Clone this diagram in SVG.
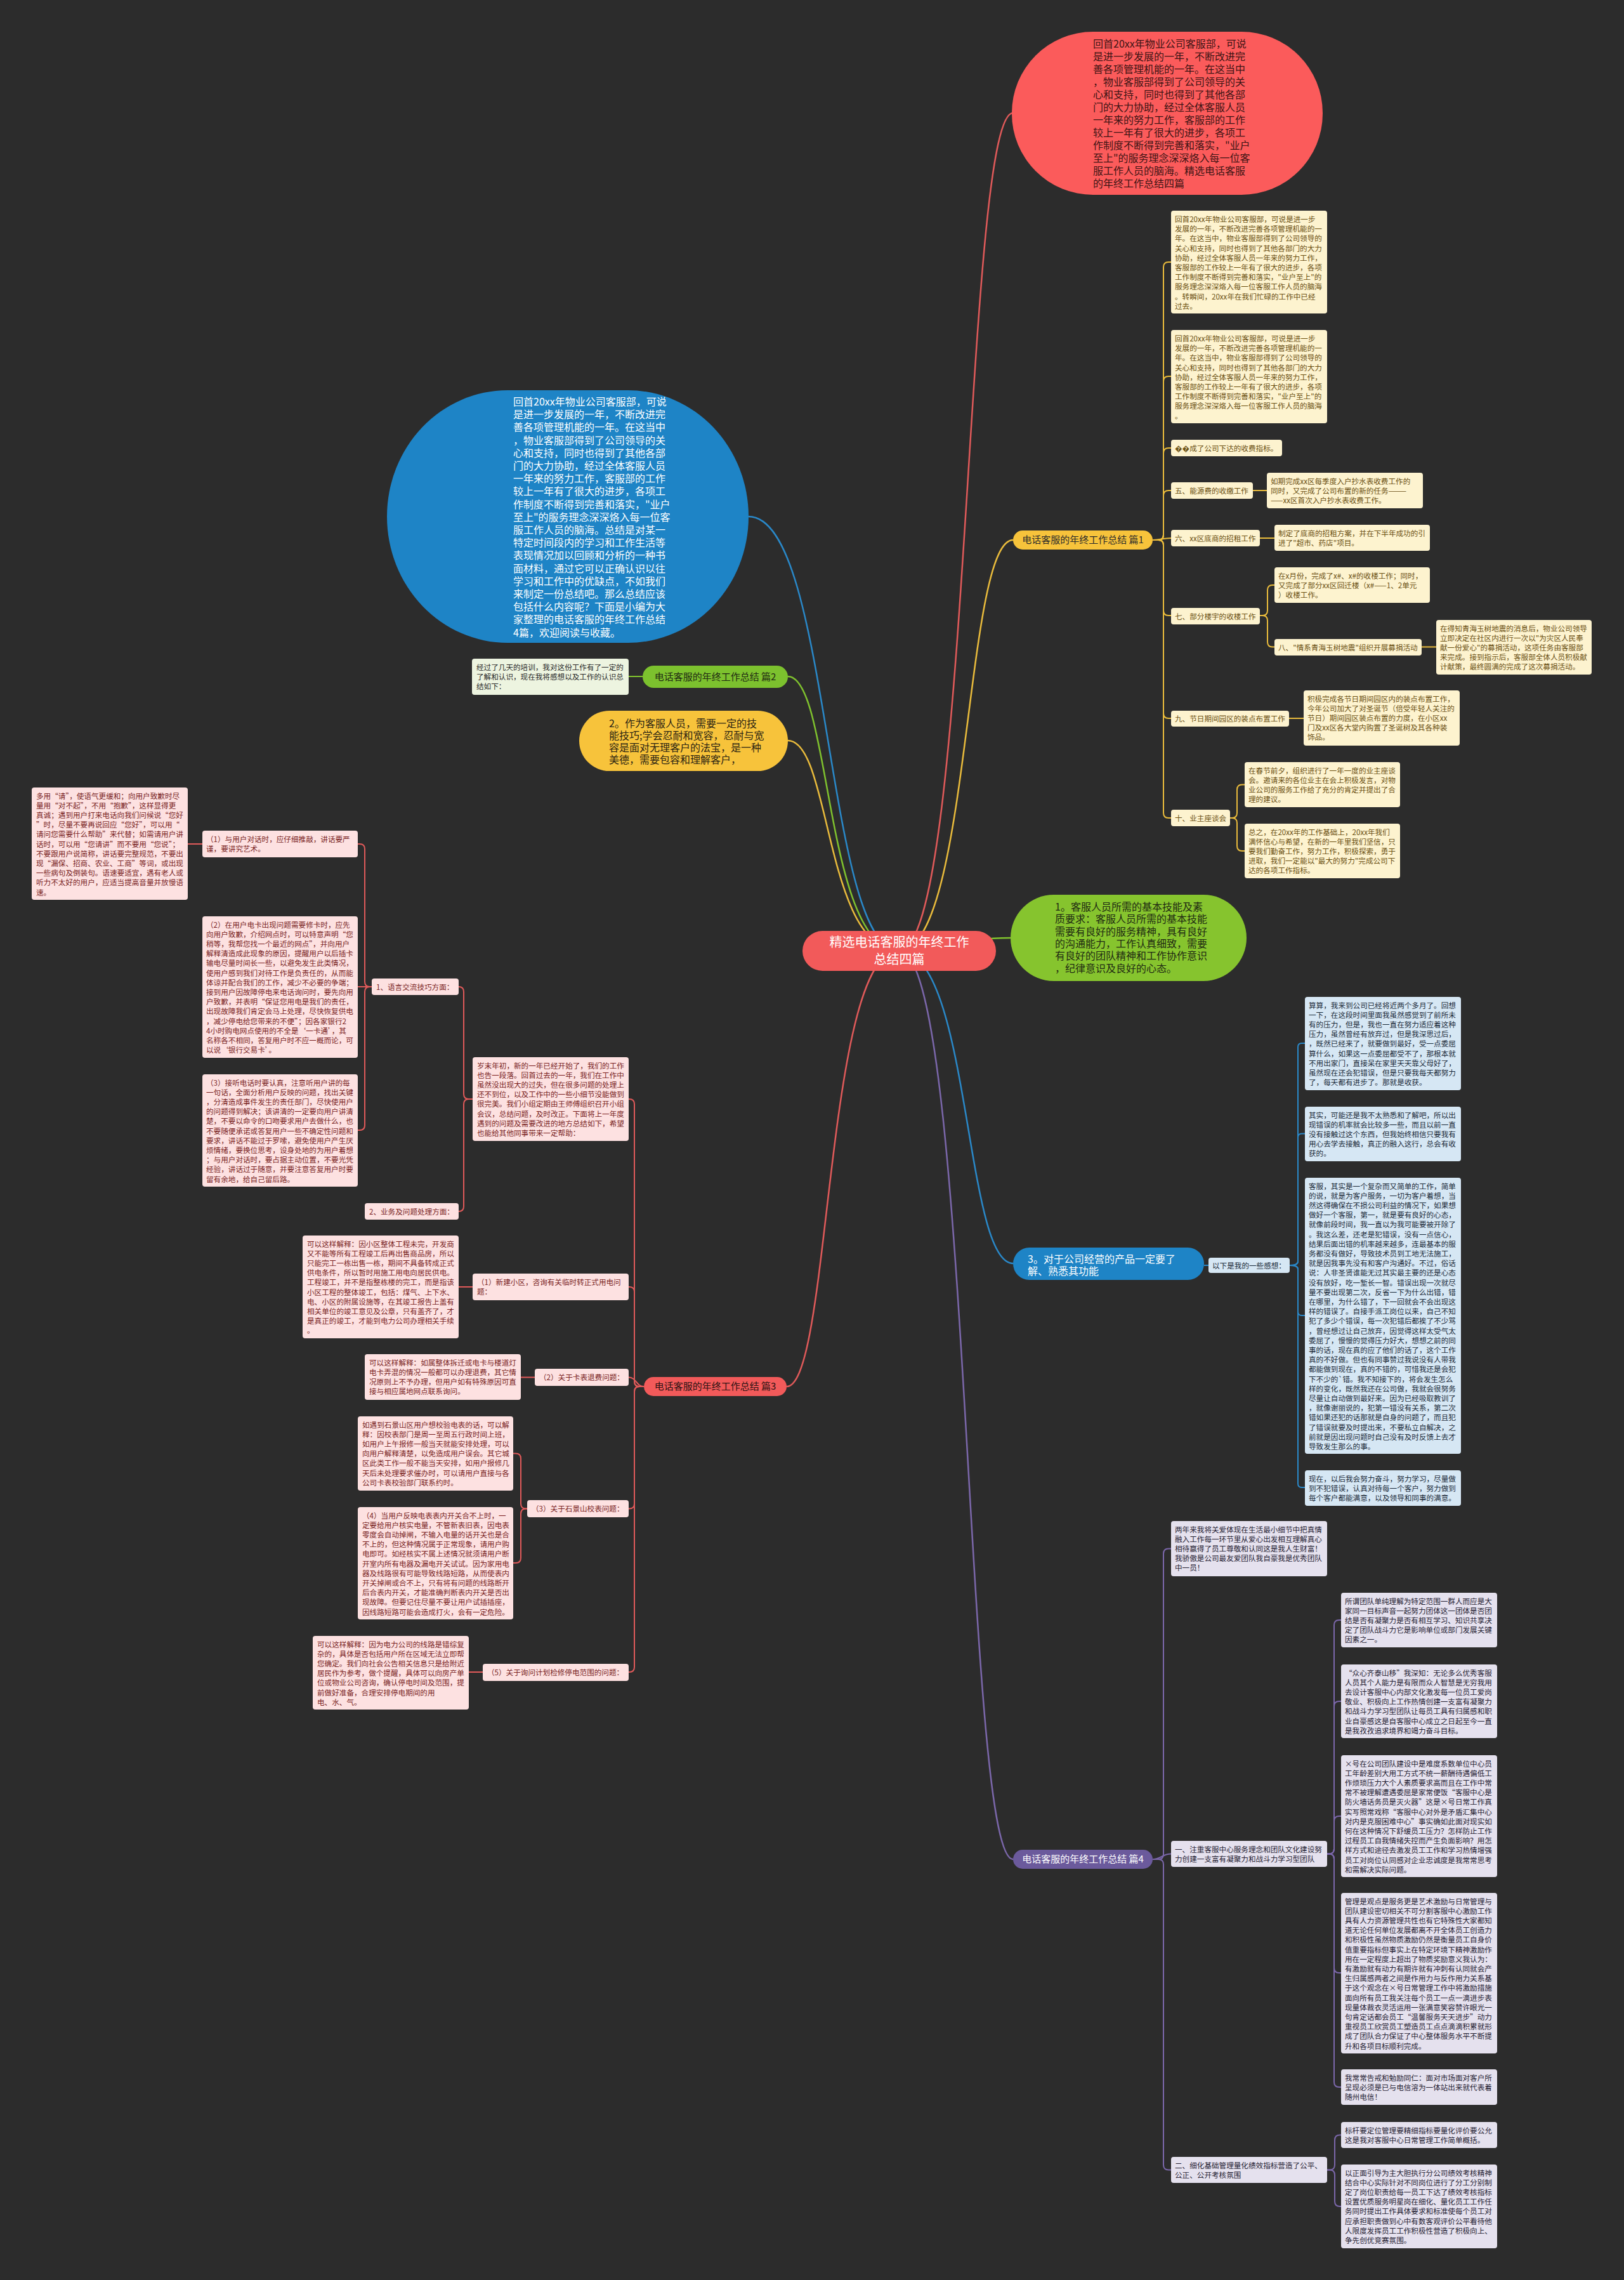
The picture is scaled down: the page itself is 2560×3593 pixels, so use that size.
<svg xmlns="http://www.w3.org/2000/svg" width="2560" height="3593" viewBox="0 0 2560 3593">
<style>
text{font-family:'Noto Sans CJK SC','Noto Sans',sans-serif}
.s{font-size:11.6px}
.m{font-size:16px}
.p{font-size:15px}
.by{fill:#fdf3cf}.ty{fill:#6b5012}
.br{fill:#fde1e1}.tr{fill:#7a1f1f}
.bgr{fill:#edf4e0}.tg{fill:#2a2a2a}
.bb{fill:#d6e7f4}.tb{fill:#1b2b3a}
.bp{fill:#e5e1ee}.tp{fill:#262233}
path{fill:none;stroke-width:2}
.cy{stroke:#e9bb3c}.cr{stroke:#e05a5a}.cg{stroke:#7fc12e}.cb{stroke:#2a88c8}.cp{stroke:#7b67aa}
.mw{stroke-width:2.5}
</style>
<rect x="0" y="0" width="2560" height="3593" fill="#2c2c2c"/>
<g id="connectors">
<path class="cr mw" d="M1417,1498 C1530,1498 1520,178 1597,178"/>
<path class="cy mw" d="M1417,1498 C1530,1498 1520,851 1597,851"/>
<path class="cg mw" d="M1417,1498 C1500,1498 1510,1478 1593,1478"/>
<path class="cb mw" d="M1417,1498 C1530,1498 1520,1991 1597,1991"/>
<path class="cp mw" d="M1417,1498 C1530,1498 1520,2930 1597,2930"/>
<path class="cb mw" d="M1417,1498 C1300,1498 1310,814 1180,814"/>
<path class="cg mw" d="M1417,1498 C1300,1498 1310,1066 1242,1066"/>
<path class="cy mw" d="M1417,1498 C1300,1498 1310,1167 1242,1167"/>
<path class="cr mw" d="M1417,1498 C1300,1498 1310,2185 1240,2185"/>
<path class="cy" d="M1817,851 H1826 Q1834,851 1834,843 V421 Q1834,413 1842,413 H1846"/>
<path class="cy" d="M1817,851 H1826 Q1834,851 1834,843 V601 Q1834,593 1842,593 H1846"/>
<path class="cy" d="M1817,851 H1826 Q1834,851 1834,843 V714 Q1834,706 1842,706 H1846"/>
<path class="cy" d="M1817,851 H1826 Q1834,851 1834,843 V781 Q1834,773 1842,773 H1846"/>
<path class="cy" d="M1817,851 C1830,851 1832,848 1846,848"/>
<path class="cy" d="M1817,851 H1826 Q1834,851 1834,859 V962 Q1834,970 1842,970 H1846"/>
<path class="cy" d="M1817,851 H1826 Q1834,851 1834,859 V1124 Q1834,1132 1842,1132 H1846"/>
<path class="cy" d="M1817,851 H1826 Q1834,851 1834,859 V1281 Q1834,1289 1842,1289 H1846"/>
<path class="cy" d="M1975,773 H1997"/>
<path class="cy" d="M1986,848 H2009"/>
<path class="cy" d="M1986,970 H1990 Q1998,970 1998,962 V930 Q1998,922 2006,922 H2009"/>
<path class="cy" d="M1986,970 H1990 Q1998,970 1998,978 V1011.5 Q1998,1019.5 2006,1019.5 H2009"/>
<path class="cy" d="M2241,1019.5 H2264"/>
<path class="cy" d="M2032,1132 H2055"/>
<path class="cy" d="M1939,1289 H1942 Q1950,1289 1950,1281 V1244.5 Q1950,1236.5 1958,1236.5 H1962"/>
<path class="cy" d="M1939,1289 H1942 Q1950,1289 1950,1297 V1333 Q1950,1341 1958,1341 H1962"/>
<path class="cg" d="M1013,1066 H991"/>
<path class="cr" d="M1015,2185 H1008 Q1000,2185 1000,2177 V1740 Q1000,1732 992,1732 H991"/>
<path class="cr" d="M1015,2185 H1008 Q1000,2185 1000,2177 V2036 Q1000,2028 992,2028 H991"/>
<path class="cr" d="M1015,2185 C1003,2185 1003,2170.5 991,2170.5"/>
<path class="cr" d="M1015,2185 H1008 Q1000,2185 1000,2193 V2369.5 Q1000,2377.5 992,2377.5 H991"/>
<path class="cr" d="M1015,2185 H1008 Q1000,2185 1000,2193 V2627 Q1000,2635 992,2635 H991"/>
<path class="cr" d="M745,1732 H739 Q731,1732 731,1724 V1563 Q731,1555 723,1555"/>
<path class="cr" d="M745,1732 H739 Q731,1732 731,1740 V1901 Q731,1909 723,1909"/>
<path class="cr" d="M586,1555 H583 Q575,1555 575,1547 V1338 Q575,1330 567,1330 H564"/>
<path class="cr" d="M586,1555 H564"/>
<path class="cr" d="M586,1555 H583 Q575,1555 575,1563 V1773 Q575,1781 567,1781 H564"/>
<path class="cr" d="M319,1330 H296"/>
<path class="cr" d="M745,2028 H722"/>
<path class="cr" d="M843,2170.5 H821"/>
<path class="cr" d="M831,2377.5 H829 Q821,2377.5 821,2369.5 V2298.5 Q821,2290.5 813,2290.5 H809"/>
<path class="cr" d="M831,2377.5 H829 Q821,2377.5 821,2385.5 V2455 Q821,2463 813,2463 H809"/>
<path class="cr" d="M761,2635 H739"/>
<path class="cb" d="M1898,1994 H1905"/>
<path class="cb" d="M2033,1994 Q2046,1994 2046,1988 V1650 Q2046,1644 2052,1644 H2057"/>
<path class="cb" d="M2033,1994 Q2046,1994 2046,1988 V1792.5 Q2046,1786.5 2052,1786.5 H2057"/>
<path class="cb" d="M2033,1994 Q2046,1994 2046,2000 V2067 Q2046,2073 2052,2073 H2057"/>
<path class="cb" d="M2033,1994 Q2046,1994 2046,2000 V2338 Q2046,2344 2052,2344 H2057"/>
<path class="cp" d="M1817,2930 H1826 Q1834,2930 1834,2922 V2448.5 Q1834,2440.5 1842,2440.5 H1846"/>
<path class="cp" d="M1817,2930 C1830,2930 1832,2921.5 1846,2921.5"/>
<path class="cp" d="M1817,2930 H1826 Q1834,2930 1834,2938 V3411.5 Q1834,3419.5 1842,3419.5 H1846"/>
<path class="cp" d="M2092,2921.5 H2095 Q2103,2921.5 2103,2913.5 V2561 Q2103,2553 2111,2553 H2114"/>
<path class="cp" d="M2092,2921.5 H2095 Q2103,2921.5 2103,2913.5 V2689 Q2103,2681 2111,2681 H2114"/>
<path class="cp" d="M2092,2921.5 H2095 Q2103,2921.5 2103,2913.5 V2870 Q2103,2862 2111,2862 H2114"/>
<path class="cp" d="M2092,2921.5 H2095 Q2103,2921.5 2103,2929.5 V3101 Q2103,3109 2111,3109 H2114"/>
<path class="cp" d="M2092,2921.5 H2095 Q2103,2921.5 2103,2929.5 V3281 Q2103,3289 2111,3289 H2114"/>
<path class="cp" d="M2092,3419.5 H2096 Q2104,3419.5 2104,3411.5 V3372.5 Q2104,3364.5 2112,3364.5 H2114"/>
<path class="cp" d="M2092,3419.5 H2096 Q2104,3419.5 2104,3427.5 V3469 Q2104,3477 2112,3477 H2114"/>
</g>

<g id="center">
<rect x="1265" y="1467" width="305" height="63" rx="31.5" fill="#f25a5a"/>
<text x="1417.5" y="1492" font-size="20" fill="#ffffff" text-anchor="middle"><tspan x="1417.5">精选电话客服的年终工作</tspan><tspan x="1417.5" dy="27">总结四篇</tspan></text>
</g>

<g id="top-red">
<rect x="1595" y="50" width="490" height="257" rx="128" fill="#fb5b5b"/>
<text class="m" x="1723" y="75" fill="#3d1414"><tspan x="1723">回首20xx年物业公司客服部，可说</tspan><tspan x="1723" dy="20">是进一步发展的一年，不断改进完</tspan><tspan x="1723" dy="20">善各项管理机能的一年。在这当中</tspan><tspan x="1723" dy="20">，物业客服部得到了公司领导的关</tspan><tspan x="1723" dy="20">心和支持，同时也得到了其他各部</tspan><tspan x="1723" dy="20">门的大力协助，经过全体客服人员</tspan><tspan x="1723" dy="20">一年来的努力工作，客服部的工作</tspan><tspan x="1723" dy="20">较上一年有了很大的进步，各项工</tspan><tspan x="1723" dy="20">作制度不断得到完善和落实，"业户</tspan><tspan x="1723" dy="20">至上"的服务理念深深烙入每一位客</tspan><tspan x="1723" dy="20">服工作人员的脑海。精选电话客服</tspan><tspan x="1723" dy="20">的年终工作总结四篇</tspan></text>
</g>

<g id="blue-intro">
<rect x="610" y="615" width="570" height="398" rx="190" ry="199" fill="#1e84c6"/>
<text class="m" x="809" y="639" fill="#ffffff"><tspan x="809">回首20xx年物业公司客服部，可说</tspan><tspan x="809" dy="20.2">是进一步发展的一年，不断改进完</tspan><tspan x="809" dy="20.2">善各项管理机能的一年。在这当中</tspan><tspan x="809" dy="20.2">，物业客服部得到了公司领导的关</tspan><tspan x="809" dy="20.2">心和支持，同时也得到了其他各部</tspan><tspan x="809" dy="20.2">门的大力协助，经过全体客服人员</tspan><tspan x="809" dy="20.2">一年来的努力工作，客服部的工作</tspan><tspan x="809" dy="20.2">较上一年有了很大的进步，各项工</tspan><tspan x="809" dy="20.2">作制度不断得到完善和落实，"业户</tspan><tspan x="809" dy="20.2">至上"的服务理念深深烙入每一位客</tspan><tspan x="809" dy="20.2">服工作人员的脑海。总结是对某一</tspan><tspan x="809" dy="20.2">特定时间段内的学习和工作生活等</tspan><tspan x="809" dy="20.2">表现情况加以回顾和分析的一种书</tspan><tspan x="809" dy="20.2">面材料，通过它可以正确认识以往</tspan><tspan x="809" dy="20.2">学习和工作中的优缺点，不如我们</tspan><tspan x="809" dy="20.2">来制定一份总结吧。那么总结应该</tspan><tspan x="809" dy="20.2">包括什么内容呢？下面是小编为大</tspan><tspan x="809" dy="20.2">家整理的电话客服的年终工作总结</tspan><tspan x="809" dy="20.2">4篇，欢迎阅读与收藏。</tspan></text>
</g>

<g id="branch1">
<rect x="1597" y="836" width="220" height="30" rx="15" fill="#f7c33b"/>
<text class="p" x="1707" y="856" fill="#2b2b2b" text-anchor="middle">电话客服的年终工作总结 篇1</text>
</g>
<g id="b1-a"><rect class="by" x="1846" y="332" width="246" height="162" rx="4"/>
<text class="s ty" x="1852" y="350"><tspan x="1852">回首20xx年物业公司客服部，可说是进一步</tspan><tspan x="1852" dy="15.2">发展的一年，不断改进完善各项管理机能的一</tspan><tspan x="1852" dy="15.2">年。在这当中，物业客服部得到了公司领导的</tspan><tspan x="1852" dy="15.2">关心和支持，同时也得到了其他各部门的大力</tspan><tspan x="1852" dy="15.2">协助，经过全体客服人员一年来的努力工作，</tspan><tspan x="1852" dy="15.2">客服部的工作较上一年有了很大的进步，各项</tspan><tspan x="1852" dy="15.2">工作制度不断得到完善和落实，"业户至上"的</tspan><tspan x="1852" dy="15.2">服务理念深深烙入每一位客服工作人员的脑海</tspan><tspan x="1852" dy="15.2">。转瞬间，20xx年在我们忙碌的工作中已经</tspan><tspan x="1852" dy="15.2">过去。</tspan></text></g>
<g id="b1-b"><rect class="by" x="1846" y="520" width="246" height="147" rx="4"/>
<text class="s ty" x="1852" y="538"><tspan x="1852">回首20xx年物业公司客服部，可说是进一步</tspan><tspan x="1852" dy="15.2">发展的一年，不断改进完善各项管理机能的一</tspan><tspan x="1852" dy="15.2">年。在这当中，物业客服部得到了公司领导的</tspan><tspan x="1852" dy="15.2">关心和支持，同时也得到了其他各部门的大力</tspan><tspan x="1852" dy="15.2">协助，经过全体客服人员一年来的努力工作，</tspan><tspan x="1852" dy="15.2">客服部的工作较上一年有了很大的进步，各项</tspan><tspan x="1852" dy="15.2">工作制度不断得到完善和落实，"业户至上"的</tspan><tspan x="1852" dy="15.2">服务理念深深烙入每一位客服工作人员的脑海</tspan><tspan x="1852" dy="15.2">。</tspan></text></g>
<g id="b1-c"><rect class="by" x="1846" y="693" width="175" height="26" rx="4"/>
<text class="s ty" x="1852" y="710.5">��成了公司下达的收费指标。</text></g>
<g id="b1-d"><rect class="by" x="1846" y="760" width="129" height="26" rx="4"/>
<text class="s ty" x="1852" y="777.5">五、能源费的收缴工作</text></g>
<g id="b1-d1"><rect class="by" x="1997" y="745" width="246" height="56" rx="4"/>
<text class="s ty" x="2003" y="762.5"><tspan x="2003">如期完成xx区每季度入户抄水表收费工作的</tspan><tspan x="2003" dy="15.2">同时，又完成了公司布置的新的任务———</tspan><tspan x="2003" dy="15.2">——xx区首次入户抄水表收费工作。</tspan></text></g>
<g id="b1-e"><rect class="by" x="1846" y="835" width="140" height="26" rx="4"/>
<text class="s ty" x="1852" y="852.5">六、xx区底商的招租工作</text></g>
<g id="b1-e1"><rect class="by" x="2009" y="827" width="245" height="41" rx="4"/>
<text class="s ty" x="2015" y="844.5"><tspan x="2015">制定了底商的招租方案，并在下半年成功的引</tspan><tspan x="2015" dy="15.2">进了"超市、药店"项目。</tspan></text></g>
<g id="b1-f"><rect class="by" x="1846" y="958" width="140" height="26" rx="4"/>
<text class="s ty" x="1852" y="975.5">七、部分楼宇的收楼工作</text></g>
<g id="b1-f1"><rect class="by" x="2009" y="894" width="245" height="56" rx="4"/>
<text class="s ty" x="2015" y="911.5"><tspan x="2015">在x月份，完成了x#、x#的收楼工作；同时，</tspan><tspan x="2015" dy="15.2">又完成了部分xx区回迁楼（x#——1、2单元</tspan><tspan x="2015" dy="15.2">）收楼工作。</tspan></text></g>
<g id="b1-f2"><rect class="by" x="2009" y="1007" width="232" height="26" rx="4"/>
<text class="s ty" x="2015" y="1024.5">八、"情系青海玉树地震"组织开展募捐活动</text></g>
<g id="b1-f2a"><rect class="by" x="2264" y="977" width="245" height="86" rx="4"/>
<text class="s ty" x="2270" y="994.5"><tspan x="2270">在得知青海玉树地震的消息后，物业公司领导</tspan><tspan x="2270" dy="15.2">立即决定在社区内进行一次以"为灾区人民奉</tspan><tspan x="2270" dy="15.2">献一份爱心"的募捐活动，这项任务由客服部</tspan><tspan x="2270" dy="15.2">来完成。接到指示后，客服部全体人员积极献</tspan><tspan x="2270" dy="15.2">计献策，最终圆满的完成了这次募捐活动。</tspan></text></g>
<g id="b1-g"><rect class="by" x="1846" y="1120" width="186" height="25" rx="4"/>
<text class="s ty" x="1852" y="1137">九、节日期间园区的装点布置工作</text></g>
<g id="b1-g1"><rect class="by" x="2055" y="1088" width="246" height="87" rx="4"/>
<text class="s ty" x="2061" y="1105.5"><tspan x="2061">积极完成各节日期间园区内的装点布置工作，</tspan><tspan x="2061" dy="15.2">今年公司加大了对圣诞节（倍受年轻人关注的</tspan><tspan x="2061" dy="15.2">节日）期间园区装点布置的力度，在小区xx</tspan><tspan x="2061" dy="15.2">门及xx区各大堂内购置了圣诞树及其各种装</tspan><tspan x="2061" dy="15.2">饰品。</tspan></text></g>
<g id="b1-h"><rect class="by" x="1846" y="1276" width="93" height="26" rx="4"/>
<text class="s ty" x="1852" y="1293.5">十、业主座谈会</text></g>
<g id="b1-h1"><rect class="by" x="1962" y="1201" width="245" height="71" rx="4"/>
<text class="s ty" x="1968" y="1218.5"><tspan x="1968">在春节前夕，组织进行了一年一度的业主座谈</tspan><tspan x="1968" dy="15.2">会。邀请来的各位业主在会上积极发言，对物</tspan><tspan x="1968" dy="15.2">业公司的服务工作给了充分的肯定并提出了合</tspan><tspan x="1968" dy="15.2">理的建议。</tspan></text></g>
<g id="b1-h2"><rect class="by" x="1962" y="1298" width="245" height="86" rx="4"/>
<text class="s ty" x="1968" y="1315.5"><tspan x="1968">总之，在20xx年的工作基础上，20xx年我们</tspan><tspan x="1968" dy="15.2">满怀信心与希望，在新的一年里我们坚信，只</tspan><tspan x="1968" dy="15.2">要我们勤奋工作，努力工作，积极探索，勇于</tspan><tspan x="1968" dy="15.2">进取，我们一定能以"最大的努力"完成公司下</tspan><tspan x="1968" dy="15.2">达的各项工作指标。</tspan></text></g>

<g id="branch2">
<rect x="1013" y="1049" width="229" height="35" rx="17.5" fill="#7cc12e"/>
<text class="p" x="1127.5" y="1072" fill="#1f2a12" text-anchor="middle">电话客服的年终工作总结 篇2</text>
</g>
<g id="b2-a"><rect class="bgr" x="744" y="1038" width="247" height="57" rx="4"/>
<text class="s tg" x="751" y="1055.5"><tspan x="751">经过了几天的培训，我对这份工作有了一定的</tspan><tspan x="751" dy="15.2">了解和认识，现在我将感想以及工作的认识总</tspan><tspan x="751" dy="15.2">结如下：</tspan></text></g>

<g id="yellow-2">
<rect x="913" y="1120" width="329" height="95" rx="47.5" fill="#f7c33b"/>
<text class="m" x="960" y="1146" fill="#2b2413"><tspan x="960">2。作为客服人员，需要一定的技</tspan><tspan x="960" dy="19">能技巧;学会忍耐和宽容，忍耐与宽</tspan><tspan x="960" dy="19">容是面对无理客户的法宝，是一种</tspan><tspan x="960" dy="19">美德，需要包容和理解客户，</tspan></text>
</g>

<g id="green-1">
<rect x="1593" y="1410" width="372" height="136" rx="68" fill="#86c42e"/>
<text class="m" x="1663" y="1435" fill="#1f2a12"><tspan x="1663">1。客服人员所需的基本技能及素</tspan><tspan x="1663" dy="19.3">质要求：客服人员所需的基本技能</tspan><tspan x="1663" dy="19.3">需要有良好的服务精神，具有良好</tspan><tspan x="1663" dy="19.3">的沟通能力，工作认真细致，需要</tspan><tspan x="1663" dy="19.3">有良好的团队精神和工作协作意识</tspan><tspan x="1663" dy="19.3">，纪律意识及良好的心态。</tspan></text>
</g>

<g id="branch3">
<rect x="1015" y="2170" width="225" height="30" rx="15" fill="#f25a5a"/>
<text class="p" x="1127.5" y="2190" fill="#2b1212" text-anchor="middle">电话客服的年终工作总结 篇3</text>
</g>
<g id="b3-far"><rect class="br" x="50" y="1241" width="246" height="177" rx="4"/>
<text class="s tr" x="57" y="1258.5"><tspan x="57">多用“请”，使语气更缓和；向用户致歉时尽</tspan><tspan x="57" dy="15.2">量用“对不起”，不用“抱歉”，这样显得更</tspan><tspan x="57" dy="15.2">真诚；遇到用户打来电话向我们问候说“您好</tspan><tspan x="57" dy="15.2">”时，尽量不要再说回应“您好”，可以用“</tspan><tspan x="57" dy="15.2">请问您需要什么帮助”来代替；如需请用户讲</tspan><tspan x="57" dy="15.2">话时，可以用“您请讲”而不要用“您说”；</tspan><tspan x="57" dy="15.2">不要跟用户说简称，讲话要完整规范，不要出</tspan><tspan x="57" dy="15.2">现“漏保、招商、农业、工商”等词，或出现</tspan><tspan x="57" dy="15.2">一些病句及倒装句。语速要适宜，遇有老人或</tspan><tspan x="57" dy="15.2">听力不太好的用户，应适当提高音量并放慢语</tspan><tspan x="57" dy="15.2">速。</tspan></text></g>
<g id="b3-l1"><rect class="br" x="319" y="1309" width="245" height="42" rx="4"/>
<text class="s tr" x="325" y="1326.5"><tspan x="325">（1）与用户对话时，应仔细推敲，讲话要严</tspan><tspan x="325" dy="15.2">谨，要讲究艺术。</tspan></text></g>
<g id="b3-l2"><rect class="br" x="319" y="1444" width="245" height="223" rx="4"/>
<text class="s tr" x="325" y="1461.5"><tspan x="325">（2）在用户电卡出现问题需要修卡时，应先</tspan><tspan x="325" dy="15.2">向用户致歉，介绍网点时，可以特意声明“您</tspan><tspan x="325" dy="15.2">稍等，我帮您找一个最近的网点”，并向用户</tspan><tspan x="325" dy="15.2">解释清造成此现象的原因，提醒用户以后插卡</tspan><tspan x="325" dy="15.2">输电尽量时间长一些，以避免发生此类情况，</tspan><tspan x="325" dy="15.2">使用户感到我们对待工作是负责任的，从而能</tspan><tspan x="325" dy="15.2">体谅并配合我们的工作，减少不必要的争端；</tspan><tspan x="325" dy="15.2">接到用户因故障停电来电话询问时，要先向用</tspan><tspan x="325" dy="15.2">户致歉，并表明“保证您用电是我们的责任，</tspan><tspan x="325" dy="15.2">出现故障我们肯定会马上处理，尽快恢复供电</tspan><tspan x="325" dy="15.2">，减少停电给您带来的不便”；因各家银行2</tspan><tspan x="325" dy="15.2">4小时购电网点使用的不全是‘一卡通’，其</tspan><tspan x="325" dy="15.2">名称各不相同，答复用户时不应一概而论，可</tspan><tspan x="325" dy="15.2">以说‘银行交易卡’。</tspan></text></g>
<g id="b3-l3"><rect class="br" x="319" y="1693" width="245" height="177" rx="4"/>
<text class="s tr" x="325" y="1710.5"><tspan x="325">（3）接听电话时要认真，注意听用户讲的每</tspan><tspan x="325" dy="15.2">一句话，全面分析用户反映的问题，找出关键</tspan><tspan x="325" dy="15.2">，分清造成事件发生的责任部门，尽快使用户</tspan><tspan x="325" dy="15.2">的问题得到解决；该讲清的一定要向用户讲清</tspan><tspan x="325" dy="15.2">楚，不要以命令的口吻要求用户去做什么，也</tspan><tspan x="325" dy="15.2">不要随便承诺或答复用户一些不确定性问题和</tspan><tspan x="325" dy="15.2">要求，讲话不能过于罗嗦，避免使用户产生厌</tspan><tspan x="325" dy="15.2">烦情绪，要换位思考，设身处地的为用户着想</tspan><tspan x="325" dy="15.2">；与用户对话时，要占据主动位置，不要光凭</tspan><tspan x="325" dy="15.2">经验，讲话过于随意，并要注意答复用户时要</tspan><tspan x="325" dy="15.2">留有余地，给自己留后路。</tspan></text></g>
<g id="b3-lang"><rect class="br" x="586" y="1542" width="137" height="26" rx="4"/>
<text class="s tr" x="593" y="1559.5">1、语言交流技巧方面：</text></g>
<g id="b3-biz"><rect class="br" x="575" y="1896" width="148" height="26" rx="4"/>
<text class="s tr" x="582" y="1913.5">2、业务及问题处理方面：</text></g>
<g id="b3-intro"><rect class="br" x="745" y="1666" width="246" height="132" rx="4"/>
<text class="s tr" x="752" y="1683.5"><tspan x="752">岁末年初，新的一年已经开始了，我们的工作</tspan><tspan x="752" dy="15.2">也告一段落。回首过去的一年，我们在工作中</tspan><tspan x="752" dy="15.2">虽然没出现大的过失，但在很多问题的处理上</tspan><tspan x="752" dy="15.2">还不到位，以及工作中的一些小细节没能做到</tspan><tspan x="752" dy="15.2">很完美。我们小组定期由王师傅组织召开小组</tspan><tspan x="752" dy="15.2">会议，总结问题，及时改正。下面将上一年度</tspan><tspan x="752" dy="15.2">遇到的问题及需要改进的地方总结如下，希望</tspan><tspan x="752" dy="15.2">也能给其他同事带来一定帮助：</tspan></text></g>
<g id="b3-q1a"><rect class="br" x="477" y="1947" width="246" height="162" rx="4"/>
<text class="s tr" x="484" y="1964.5"><tspan x="484">可以这样解释：因小区整体工程未完，开发商</tspan><tspan x="484" dy="15.2">又不能等所有工程竣工后再出售商品房，所以</tspan><tspan x="484" dy="15.2">只能完工一栋出售一栋，期间不具备转成正式</tspan><tspan x="484" dy="15.2">供电条件，所以暂时用施工用电向居民供电。</tspan><tspan x="484" dy="15.2">工程竣工，并不是指整栋楼的完工，而是指该</tspan><tspan x="484" dy="15.2">小区工程的整体竣工，包括：煤气、上下水、</tspan><tspan x="484" dy="15.2">电、小区的附属设施等，在其竣工报告上盖有</tspan><tspan x="484" dy="15.2">相关单位的竣工意见及公章，只有盖齐了，才</tspan><tspan x="484" dy="15.2">是真正的竣工，才能到电力公司办理相关手续</tspan><tspan x="484" dy="15.2">。</tspan></text></g>
<g id="b3-q1"><rect class="br" x="745" y="2007" width="246" height="42" rx="4"/>
<text class="s tr" x="752" y="2024.5"><tspan x="752">（1）新建小区，咨询有关临时转正式用电问</tspan><tspan x="752" dy="15.2">题：</tspan></text></g>
<g id="b3-q2a"><rect class="br" x="575" y="2134" width="246" height="72" rx="4"/>
<text class="s tr" x="582" y="2151.5"><tspan x="582">可以这样解释：如属整体拆迁或电卡与楼道灯</tspan><tspan x="582" dy="15.2">电卡弄混的情况一般都可以办理退费，其它情</tspan><tspan x="582" dy="15.2">况原则上不予办理，但用户如有特殊原因可直</tspan><tspan x="582" dy="15.2">接与相应属地网点联系询问。</tspan></text></g>
<g id="b3-q2"><rect class="br" x="843" y="2157" width="148" height="27" rx="4"/>
<text class="s tr" x="850" y="2174.5">（2）关于卡表退费问题：</text></g>
<g id="b3-q3a"><rect class="br" x="564" y="2232" width="245" height="117" rx="4"/>
<text class="s tr" x="571" y="2249.5"><tspan x="571">如遇到石景山区用户想校验电表的话，可以解</tspan><tspan x="571" dy="15.2">释：因校表部门是周一至周五行政时间上班，</tspan><tspan x="571" dy="15.2">如用户上午报修一般当天就能安排处理，可以</tspan><tspan x="571" dy="15.2">向用户解释清楚，以免造成用户误会。其它城</tspan><tspan x="571" dy="15.2">区此类工作一般不能当天安排，如用户报修几</tspan><tspan x="571" dy="15.2">天后未处理要求催办时，可以请用户直接与各</tspan><tspan x="571" dy="15.2">公司卡表校验部门联系约时。</tspan></text></g>
<g id="b3-q3b"><rect class="br" x="564" y="2375" width="245" height="177" rx="4"/>
<text class="s tr" x="571" y="2392.5"><tspan x="571">（4）当用户反映电表表内开关合不上时，一</tspan><tspan x="571" dy="15.2">定要给用户核实电量，不管新表旧表，因电表</tspan><tspan x="571" dy="15.2">零度会自动掉闸，不输入电量的话开关也是合</tspan><tspan x="571" dy="15.2">不上的，但这种情况属于正常现象，请用户购</tspan><tspan x="571" dy="15.2">电即可。如经核实不属上述情况就须请用户断</tspan><tspan x="571" dy="15.2">开室内所有电器及漏电开关试试。因为家用电</tspan><tspan x="571" dy="15.2">器及线路很有可能导致线路短路，从而使表内</tspan><tspan x="571" dy="15.2">开关掉闸或合不上，只有将有问题的线路断开</tspan><tspan x="571" dy="15.2">后合表内开关，才能准确判断表内开关是否出</tspan><tspan x="571" dy="15.2">现故障。但要记住尽量不要让用户试插插座，</tspan><tspan x="571" dy="15.2">因线路短路可能会造成打火，会有一定危险。</tspan></text></g>
<g id="b3-q3"><rect class="br" x="831" y="2364" width="160" height="27" rx="4"/>
<text class="s tr" x="838" y="2381.5">（3）关于石景山校表问题：</text></g>
<g id="b3-q5a"><rect class="br" x="493" y="2578" width="246" height="116" rx="4"/>
<text class="s tr" x="500" y="2595.5"><tspan x="500">可以这样解释：因为电力公司的线路是错综复</tspan><tspan x="500" dy="15.2">杂的，具体是否包括用户所在区域无法立即帮</tspan><tspan x="500" dy="15.2">您确定。我们向社会公告相关信息只是给附近</tspan><tspan x="500" dy="15.2">居民作为参考，做个提醒，具体可以向房产单</tspan><tspan x="500" dy="15.2">位或物业公司咨询，确认停电时间及范围，提</tspan><tspan x="500" dy="15.2">前做好准备，合理安排停电期间的用</tspan><tspan x="500" dy="15.2">电、水、气。</tspan></text></g>
<g id="b3-q5"><rect class="br" x="761" y="2622" width="230" height="27" rx="4"/>
<text class="s tr" x="768" y="2639.5">（5）关于询问计划检修停电范围的问题：</text></g>

<g id="blue-3">
<rect x="1597" y="1966" width="301" height="51" rx="25.5" fill="#1e84c6"/>
<text class="m" x="1620" y="1990" fill="#ffffff"><tspan x="1620">3。对于公司经营的产品一定要了</tspan><tspan x="1620" dy="19">解、熟悉其功能</tspan></text>
</g>
<g id="bl-intro"><rect class="bb" x="1905" y="1982" width="128" height="24" rx="4"/>
<text class="s tb" x="1911" y="1998.5">以下是我的一些感想：</text></g>
<g id="bl-1"><rect class="bb" x="2057" y="1571" width="246" height="147" rx="4"/>
<text class="s tb" x="2063" y="1588.5"><tspan x="2063">算算，我来到公司已经将近两个多月了。回想</tspan><tspan x="2063" dy="15.2">一下，在这段时间里面我虽然感觉到了前所未</tspan><tspan x="2063" dy="15.2">有的压力，但是，我也一直在努力适应着这种</tspan><tspan x="2063" dy="15.2">压力，虽然曾经有放弃过，但是我深思过后，</tspan><tspan x="2063" dy="15.2">，既然已经来了，就要做到最好，受一点委屈</tspan><tspan x="2063" dy="15.2">算什么，如果这一点委屈都受不了，那根本就</tspan><tspan x="2063" dy="15.2">不用出家门，直接呆在家里天天靠父母好了，</tspan><tspan x="2063" dy="15.2">虽然现在还会犯错误，但是只要我每天都努力</tspan><tspan x="2063" dy="15.2">了，每天都有进步了。那就是收获。</tspan></text></g>
<g id="bl-2"><rect class="bb" x="2057" y="1744" width="246" height="86" rx="4"/>
<text class="s tb" x="2063" y="1761.5"><tspan x="2063">其实，可能还是我不太熟悉和了解吧，所以出</tspan><tspan x="2063" dy="15.2">现错误的机率就会比较多一些，而且以前一直</tspan><tspan x="2063" dy="15.2">没有接触过这个东西，但我始终相信只要我有</tspan><tspan x="2063" dy="15.2">用心去学去接触，真正的融入这行，总会有收</tspan><tspan x="2063" dy="15.2">获的。</tspan></text></g>
<g id="bl-3"><rect class="bb" x="2057" y="1856" width="246" height="435" rx="4"/>
<text class="s tb" x="2063" y="1873.5"><tspan x="2063">客服，其实是一个复杂而又简单的工作，简单</tspan><tspan x="2063" dy="15.2">的说，就是为客户服务，一切为客户着想，当</tspan><tspan x="2063" dy="15.2">然这得确保在不损公司利益的情况下，如果想</tspan><tspan x="2063" dy="15.2">做好一个客服，第一，就是要有良好的心态，</tspan><tspan x="2063" dy="15.2">就像前段时间，我一直以为我可能要被开除了</tspan><tspan x="2063" dy="15.2">。我这么差，还老是犯错误，没有一点信心，</tspan><tspan x="2063" dy="15.2">结果后面出错的机率越来越多，连最基本的服</tspan><tspan x="2063" dy="15.2">务都没有做好，导致技术员到工地无法施工，</tspan><tspan x="2063" dy="15.2">就是因我事先没有和客户沟通好。不过，俗话</tspan><tspan x="2063" dy="15.2">说：人非圣贤谁能无过其实最主要的还是心态</tspan><tspan x="2063" dy="15.2">没有放好，吃一堑长一智。错误出现一次就尽</tspan><tspan x="2063" dy="15.2">量不要出现第二次，反省一下为什么出错，错</tspan><tspan x="2063" dy="15.2">在哪里，为什么错了，下一回就会不会出现这</tspan><tspan x="2063" dy="15.2">样的错误了。自接手派工岗位以来，自己不知</tspan><tspan x="2063" dy="15.2">犯了多少个错误，每一次犯错后都挨了不少骂</tspan><tspan x="2063" dy="15.2">，曾经想过让自己放弃，因觉得这样太受气太</tspan><tspan x="2063" dy="15.2">委屈了，慢慢的觉得压力好大，想想之前的同</tspan><tspan x="2063" dy="15.2">事的话，现在真的应了他们的话了，这个工作</tspan><tspan x="2063" dy="15.2">真的不好做。但也有同事赞过我说没有人带我</tspan><tspan x="2063" dy="15.2">都能做到现在，真的不错的，可惜我还是会犯</tspan><tspan x="2063" dy="15.2">下不少的`错。我不知接下的，将会发生怎么</tspan><tspan x="2063" dy="15.2">样的变化，既然我还在公司做，我就会很努务</tspan><tspan x="2063" dy="15.2">尽量让自动做到最好来。因为已经吸取教训了</tspan><tspan x="2063" dy="15.2">，就像谢丽说的，犯第一错没有关系，第二次</tspan><tspan x="2063" dy="15.2">错如果还犯的话那就是自身的问题了，而且犯</tspan><tspan x="2063" dy="15.2">了错误就要及时提出来，不要私立自解决，之</tspan><tspan x="2063" dy="15.2">前就是因出现问题时自己没有及时反馈上去才</tspan><tspan x="2063" dy="15.2">导致发生那么的事。</tspan></text></g>
<g id="bl-4"><rect class="bb" x="2057" y="2317" width="246" height="56" rx="4"/>
<text class="s tb" x="2063" y="2334.5"><tspan x="2063">现在，以后我会努力奋斗，努力学习，尽量做</tspan><tspan x="2063" dy="15.2">到不犯错误，认真对待每一个客户，努力做到</tspan><tspan x="2063" dy="15.2">每个客户都能满意，以及领导和同事的满意。</tspan></text></g>

<g id="branch4">
<rect x="1597" y="2915" width="220" height="30" rx="15" fill="#6b5a9c"/>
<text class="p" x="1707" y="2935" fill="#ffffff" text-anchor="middle">电话客服的年终工作总结 篇4</text>
</g>
<g id="b4-a"><rect class="bp" x="1846" y="2397" width="246" height="87" rx="4"/>
<text class="s tp" x="1852" y="2414.5"><tspan x="1852">两年来我将关爱体现在生活最小细节中把真情</tspan><tspan x="1852" dy="15.2">融入工作每一环节里从爱心出发相互理解真心</tspan><tspan x="1852" dy="15.2">相待赢得了员工尊敬和认同这是我人生财富！</tspan><tspan x="1852" dy="15.2">我骄傲是公司最友爱团队我自豪我是优秀团队</tspan><tspan x="1852" dy="15.2">中一员！</tspan></text></g>
<g id="b4-one"><rect class="bp" x="1846" y="2901" width="246" height="41" rx="4"/>
<text class="s tp" x="1852" y="2918.5"><tspan x="1852">一、注重客服中心服务理念和团队文化建设努</tspan><tspan x="1852" dy="15.2">力创建一支富有凝聚力和战斗力学习型团队</tspan></text></g>
<g id="b4-two"><rect class="bp" x="1846" y="3399" width="246" height="41" rx="4"/>
<text class="s tp" x="1852" y="3416.5"><tspan x="1852">二、细化基础管理量化绩效指标营造了公平、</tspan><tspan x="1852" dy="15.2">公正、公开考核氛围</tspan></text></g>
<g id="b4-1a"><rect class="bp" x="2114" y="2510" width="246" height="86" rx="4"/>
<text class="s tp" x="2120" y="2527.5"><tspan x="2120">所谓团队单纯理解为特定范围一群人而应是大</tspan><tspan x="2120" dy="15.2">家同一目标声音一起努力团体这一团体是否团</tspan><tspan x="2120" dy="15.2">结是否有凝聚力是否有相互学习、知识共享决</tspan><tspan x="2120" dy="15.2">定了团队战斗力它是影响单位或部门发展关键</tspan><tspan x="2120" dy="15.2">因素之一。</tspan></text></g>
<g id="b4-1b"><rect class="bp" x="2114" y="2623" width="246" height="116" rx="4"/>
<text class="s tp" x="2120" y="2640.5"><tspan x="2120">“众心齐泰山移”我深知：无论多么优秀客服</tspan><tspan x="2120" dy="15.2">人员其个人能力是有限而众人智慧是无穷我用</tspan><tspan x="2120" dy="15.2">去设计客服中心内部文化激发每一位员工爱岗</tspan><tspan x="2120" dy="15.2">敬业、积极向上工作热情创建一支富有凝聚力</tspan><tspan x="2120" dy="15.2">和战斗力学习型团队让每员工具有归属感和职</tspan><tspan x="2120" dy="15.2">业自豪感这是自客服中心成立之日起至今一直</tspan><tspan x="2120" dy="15.2">是我孜孜追求境界和竭力奋斗目标。</tspan></text></g>
<g id="b4-1c"><rect class="bp" x="2114" y="2766" width="246" height="192" rx="4"/>
<text class="s tp" x="2120" y="2783.5"><tspan x="2120">×号在公司团队建设中是难度系数单位中心员</tspan><tspan x="2120" dy="15.2">工年龄差别大用工方式不统一薪酬待遇偏低工</tspan><tspan x="2120" dy="15.2">作烦琐压力大个人素质要求高而且在工作中常</tspan><tspan x="2120" dy="15.2">常不被理解遭遇委屈是家常便饭“客服中心是</tspan><tspan x="2120" dy="15.2">防火墙话务员是灭火器”这是×号日常工作真</tspan><tspan x="2120" dy="15.2">实写照常戏称“客服中心对外是矛盾汇集中心</tspan><tspan x="2120" dy="15.2">对内是克服困难中心”事实确如此面对现实如</tspan><tspan x="2120" dy="15.2">何在这种情况下舒缓员工压力？怎样防止工作</tspan><tspan x="2120" dy="15.2">过程员工自我情绪失控而产生负面影响？用怎</tspan><tspan x="2120" dy="15.2">样方式和途径去激发员工工作和学习热情增强</tspan><tspan x="2120" dy="15.2">员工对岗位认同感对企业忠诚度是我常常思考</tspan><tspan x="2120" dy="15.2">和需解决实际问题。</tspan></text></g>
<g id="b4-1d"><rect class="bp" x="2114" y="2983" width="246" height="253" rx="4"/>
<text class="s tp" x="2120" y="3000.5"><tspan x="2120">管理是观点是服务更是艺术激励与日常管理与</tspan><tspan x="2120" dy="15.2">团队建设密切相关不可分割客服中心激励工作</tspan><tspan x="2120" dy="15.2">具有人力资源管理共性也有它特殊性大家都知</tspan><tspan x="2120" dy="15.2">道无论任何单位发展都离不开全体员工创造力</tspan><tspan x="2120" dy="15.2">和积极性虽然物质激励仍然是衡量员工自身价</tspan><tspan x="2120" dy="15.2">值重要指标但事实上在特定环境下精神激励作</tspan><tspan x="2120" dy="15.2">用在一定程度上超出了物质奖励意义我认为：</tspan><tspan x="2120" dy="15.2">有激励就有动力有期许就有冲刺有认同就会产</tspan><tspan x="2120" dy="15.2">生归属感两者之间是作用力与反作用力关系基</tspan><tspan x="2120" dy="15.2">于这个观念在×号日常管理工作中将激励措施</tspan><tspan x="2120" dy="15.2">面向所有员工我关注每个员工一点一滴进步表</tspan><tspan x="2120" dy="15.2">现量体裁衣灵活运用一张满意笑容赞许眼光一</tspan><tspan x="2120" dy="15.2">句肯定话都会员工“温馨服务天天进步”动力</tspan><tspan x="2120" dy="15.2">重视员工欣赏员工塑造员工点点滴滴积累就形</tspan><tspan x="2120" dy="15.2">成了团队合力保证了中心整体服务水平不断提</tspan><tspan x="2120" dy="15.2">升和各项目标顺利完成。</tspan></text></g>
<g id="b4-1e"><rect class="bp" x="2114" y="3261" width="246" height="56" rx="4"/>
<text class="s tp" x="2120" y="3278.5"><tspan x="2120">我常常告戒和勉励同仁：面对市场面对客户所</tspan><tspan x="2120" dy="15.2">呈现必须是已与电信溶为一体站出来就代表着</tspan><tspan x="2120" dy="15.2">随州电信！</tspan></text></g>
<g id="b4-2a"><rect class="bp" x="2114" y="3344" width="246" height="41" rx="4"/>
<text class="s tp" x="2120" y="3361.5"><tspan x="2120">标杆要定位管理要精细指标要量化评价要公允</tspan><tspan x="2120" dy="15.2">这是我对客服中心日常管理工作简单概括。</tspan></text></g>
<g id="b4-2b"><rect class="bp" x="2114" y="3411" width="246" height="132" rx="4"/>
<text class="s tp" x="2120" y="3428.5"><tspan x="2120">以正面引导为主大胆执行分公司绩效考核精神</tspan><tspan x="2120" dy="15.2">结合中心实际针对不同岗位进行了分工分别制</tspan><tspan x="2120" dy="15.2">定了岗位职责给每一员工下达了绩效考核指标</tspan><tspan x="2120" dy="15.2">设置优质服务明星岗在细化、量化员工工作任</tspan><tspan x="2120" dy="15.2">务同时提出工作具体要求和标准使每个员工对</tspan><tspan x="2120" dy="15.2">应承担职责做到心中有数客观评价公平看待他</tspan><tspan x="2120" dy="15.2">人限度发挥员工工作积极性营造了积极向上、</tspan><tspan x="2120" dy="15.2">争先创优竞赛氛围。</tspan></text></g>
</svg>
